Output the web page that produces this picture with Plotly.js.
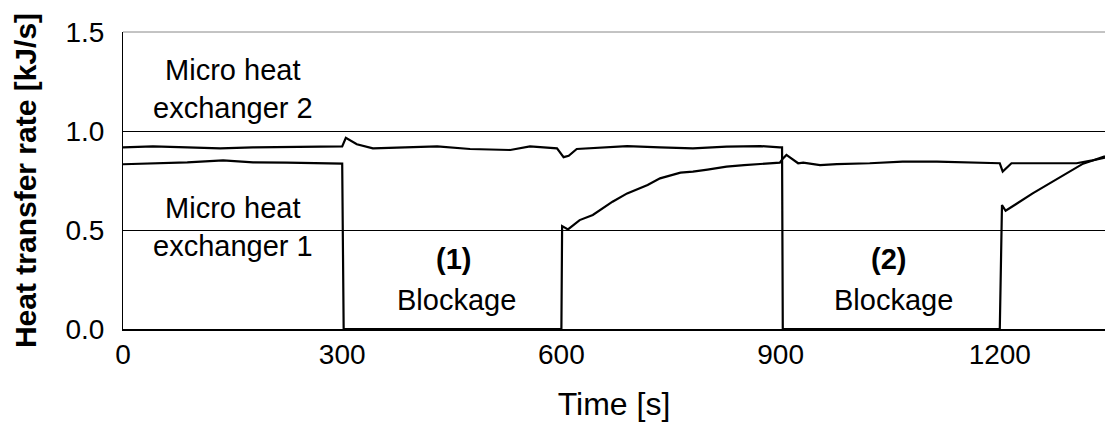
<!DOCTYPE html>
<html>
<head>
<meta charset="utf-8">
<script src="https://cdn.plot.ly/plotly-3.0.1.min.js"></script>
<style>html,body{margin:0;padding:0;background:#fff;}#chart{width:1105px;height:426px;}</style>
</head>
<body>
<div id="chart"></div>
<script>
// Time [s] and heat transfer rate [kJ/s] for micro heat exchanger 1
const time1 = [0, 41, 88, 137, 178, 224, 270, 300, 302, 315, 450, 600, 601, 609, 625, 643, 670, 690, 718, 735, 763, 780, 800, 826, 850, 872, 899, 903, 908, 924, 931, 954, 977, 1022, 1067, 1114, 1159, 1200, 1204, 1216, 1250, 1291, 1305, 1325, 1344];
const rate1 = [0.832, 0.835, 0.842, 0.852, 0.842, 0.840, 0.835, 0.835, 0, 0, 0, 0, 0.52, 0.503, 0.55, 0.576, 0.643, 0.685, 0.727, 0.761, 0.79, 0.795, 0.805, 0.82, 0.828, 0.833, 0.84, 0.86, 0.879, 0.837, 0.84, 0.828, 0.833, 0.837, 0.845, 0.845, 0.84, 0.837, 0.795, 0.837, 0.837, 0.837, 0.837, 0.85, 0.866];

// Time [s] and heat transfer rate [kJ/s] for micro heat exchanger 2
const time2 = [0, 41, 88, 133, 178, 224, 270, 300, 305, 320, 342, 383, 430, 475, 530, 557, 594, 603, 610, 621, 657, 690, 735, 780, 826, 872, 899, 902, 903, 1050, 1200, 1203, 1208, 1245, 1268, 1291, 1314, 1344];
const rate2 = [0.917, 0.922, 0.917, 0.912, 0.917, 0.92, 0.922, 0.922, 0.966, 0.933, 0.912, 0.917, 0.922, 0.909, 0.904, 0.922, 0.912, 0.868, 0.875, 0.909, 0.917, 0.924, 0.917, 0.912, 0.921, 0.924, 0.917, 0.917, 0, 0, 0, 0.626, 0.597, 0.685, 0.735, 0.785, 0.835, 0.872];

const xTicks = [0, 300, 600, 900, 1200];
const yTicks = [0, 0.5, 1.0, 1.5];
const yTickText = ['0.0', '0.5', '1.0', '1.5'];

// Text labels: [text, x, y, bold]
const labels = [
  ['Micro heat<br>exchanger 2', 150, 1.211, false],
  ['Micro heat<br>exchanger 1', 150, 0.513, false],
  ['(1)', 452, 0.352, true],
  ['Blockage', 457, 0.146, false],
  ['(2)', 1047, 0.352, true],
  ['Blockage', 1054, 0.146, false]
];

const FONT = 'Arial, "Liberation Sans", sans-serif';

const traces = [
  {x: time1, y: rate1, mode: 'lines', name: 'Micro heat exchanger 1', line: {color: '#000', width: 2.2}},
  {x: time2, y: rate2, mode: 'lines', name: 'Micro heat exchanger 2', line: {color: '#000', width: 2.2}}
];

const annotations = labels.map(l => ({
  x: l[1], y: l[2], xref: 'x', yref: 'y', text: l[3] ? '<b>' + l[0] + '</b>' : l[0],
  showarrow: false, xanchor: 'center', yanchor: 'middle',
  font: {family: FONT, size: 29, color: '#000'}
}));

const layout = {
  width: 1105, height: 426,
  margin: {l: 123, r: 0, t: 32, b: 97},
  paper_bgcolor: '#fff', plot_bgcolor: '#fff',
  showlegend: false,
  font: {family: FONT, color: '#000'},
  xaxis: {
    range: [0, 1344], tickvals: xTicks, ticktext: xTicks.map(String),
    showgrid: false, zeroline: false, showline: true, linecolor: '#000', linewidth: 1.5,
    ticks: '', tickfont: {family: FONT, size: 28, color: '#000'},
    title: {text: 'Time [s]', font: {family: FONT, size: 32, color: '#000'}, standoff: 23}
  },
  yaxis: {
    range: [0, 1.5], tickvals: yTicks, ticktext: yTickText,
    showgrid: true, gridcolor: '#000', gridwidth: 1, zeroline: false,
    showline: true, linecolor: '#000', linewidth: 1,
    ticks: '', ticklabelstandoff: 12, tickfont: {family: FONT, size: 28, color: '#000'},
    title: {text: '<b>Heat transfer rate [kJ/s]</b>', font: {family: FONT, size: 30, color: '#000'}, standoff: 19}
  },
  shapes: [
    {type: 'line', xref: 'paper', yref: 'paper', x0: 0, x1: 1, y0: 1, y1: 1, line: {color: '#888', width: 1}, layer: 'above'}
  ],
  annotations: annotations
};

Plotly.newPlot('chart', traces, layout, {displayModeBar: false, staticPlot: true});
</script>
</body>
</html>
